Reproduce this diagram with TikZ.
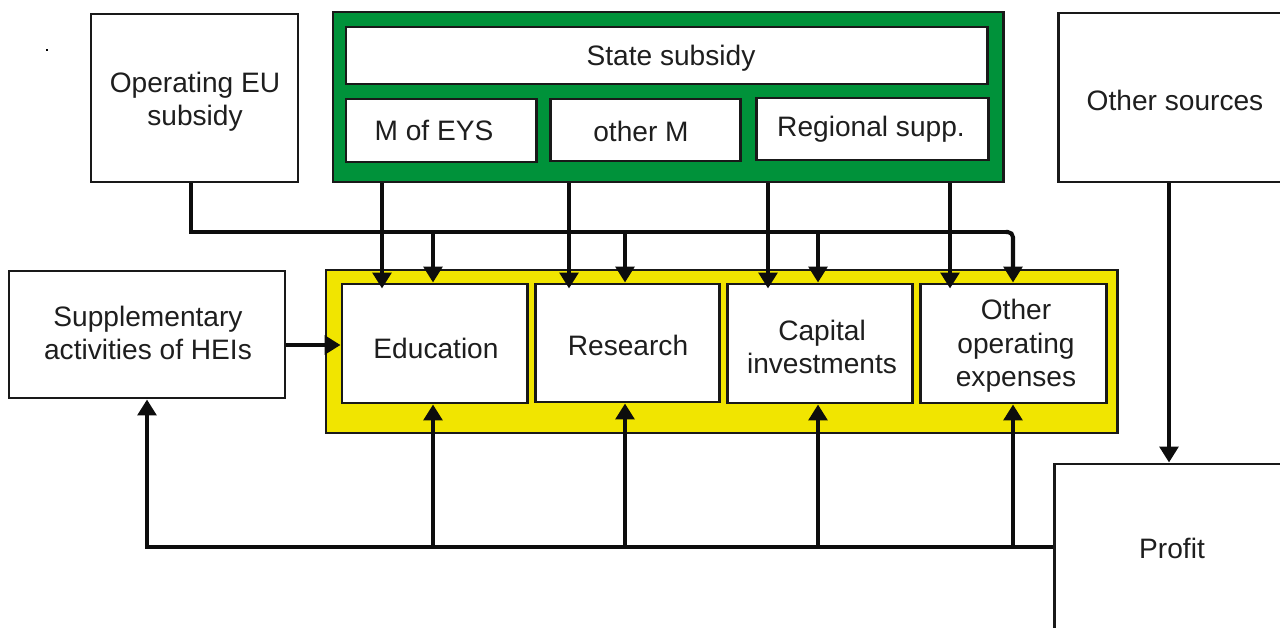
\documentclass[tikz,border=0pt]{standalone}
\usepackage{fontspec}
\setmainfont{Liberation Sans}
\usetikzlibrary{arrows.meta,fit}
\definecolor{fgreen}{RGB}{0,146,58}
\definecolor{fyellow}{RGB}{241,229,0}
\definecolor{txt}{RGB}{30,30,30}
\begin{document}
\begin{tikzpicture}[x=0.02cm,y=-0.02cm,
  box/.style={draw=black!90, line width=1.7pt, fill=white, inner sep=0pt},
  lbl/.style={inner sep=0pt, align=center, font=\fontsize{16}{19}\selectfont, text=txt},
  panel/.style={draw=black!90, line width=1.7pt, inner sep=0pt},
  conn/.style={line width=2.3pt, draw=black!95},
  arr/.style={conn, -{Triangle[width=10.5pt,length=9pt]}}]
\clip (0,0) rectangle (1280,628);
\fill[white] (0,0) rectangle (1280,628);
\fill (46,49) rectangle (48,51);
% top row
\node[box, fit={(91,14) (298,182)}] (eu) {};
\node[panel, fill=fgreen, fit={(333,12) (1003,182)}] (green) {};
\node[box, fit={(346,27) (987,84)}] (state) {};
\node[box, fit={(346,99) (536,162)}] (meys) {};
\node[box, fit={(550,99) (740,161)}] (otherm) {};
\node[box, fit={(756,98) (988,160)}] (reg) {};
\node[box, fit={(1058,13) (1292,182)}] (oth) {};
% middle row
\node[box, fit={(9,271) (285,398)}] (sup) {};
\node[panel, fill=fyellow, fit={(326,270) (1117,433)}] (yellow) {};
\node[box, fit={(342,284) (527,403)}] (edu) {};
\node[box, fit={(535,284) (719,402)}] (res) {};
\node[box, fit={(727,284) (912,403)}] (cap) {};
\node[box, fit={(920,284) (1106,403)}] (ooe) {};
% bottom
\node[box, fit={(1054,464) (1290,640)}] (profit) {};
% labels
\node[lbl] (eut) at (195,102) {Operating EU\\subsidy};
\node[lbl] (statet) at (671,58) {State subsidy};
\node[lbl] (meyst) at (434,130) {M of EYS};
\node[lbl] (othermt) at (641,131) {other M};
\node[lbl] (regt) at (871,129) {Regional supp.};
\node[lbl] (otht) at (1175,100) {Other sources};
\node[lbl] (supt) at (148,333) {Supplementary\\activities of HEIs};
\node[lbl] (edut) at (436,348) {Education};
\node[lbl] (rest) at (628,345) {Research};
\node[lbl] (capt) at (822,347) {Capital\\investments};
\node[lbl] (ooet) at (1016,346) {Other\\operating\\expenses};
\node[lbl] (profitt) at (1172,548) {Profit};
% coordinates
\coordinate (g1) at (382,0);
\coordinate (g2) at (569,0);
\coordinate (g3) at (768,0);
\coordinate (g4) at (950,0);
\coordinate (b1) at (433,232);
\coordinate (b2) at (625,232);
\coordinate (b3) at (818,232);
\coordinate (busR) at (1013,232);
\coordinate (c1) at (433,547);
\coordinate (c2) at (625,547);
\coordinate (c3) at (818,547);
\coordinate (c4) at (1013,547);
\coordinate (busL) at (147,547);
\coordinate (e1) at (191,0);
\coordinate (o1) at (1169,0);
\coordinate (m) at (0,345);
% state subsidy arrows
\draw[arr] (g1 |- green.south) -- ([yshift=-3.4pt]g1 |- edu.north);
\draw[arr] (g2 |- green.south) -- ([yshift=-3.4pt]g2 |- res.north);
\draw[arr] (g3 |- green.south) -- ([yshift=-3.4pt]g3 |- cap.north);
\draw[arr] (g4 |- green.south) -- ([yshift=-3.4pt]g4 |- ooe.north);
% EU subsidy bus
\draw[conn] (e1 |- eu.south) -- (e1 |- busR) -- ([xshift=-3pt]busR);
\draw[arr, rounded corners=3pt] ([xshift=-4pt]busR) -- (busR) -- (busR |- ooe.north);
\draw[arr] (b1) -- (b1 |- edu.north);
\draw[arr] (b2) -- (b2 |- res.north);
\draw[arr] (b3) -- (b3 |- cap.north);
% supplementary to education
\draw[arr] (sup.east |- m) -- (edu.west |- m);
% profit bus
\draw[arr] (profit.west |- busL) -- (busL) -- (busL |- sup.south);
\draw[arr] (c1) -- (c1 |- edu.south);
\draw[arr] (c2) -- (c2 |- res.south);
\draw[arr] (c3) -- (c3 |- cap.south);
\draw[arr] (c4) -- (c4 |- ooe.south);
% other sources to profit
\draw[arr] (o1 |- oth.south) -- (o1 |- profit.north);
\end{tikzpicture}
\end{document}
